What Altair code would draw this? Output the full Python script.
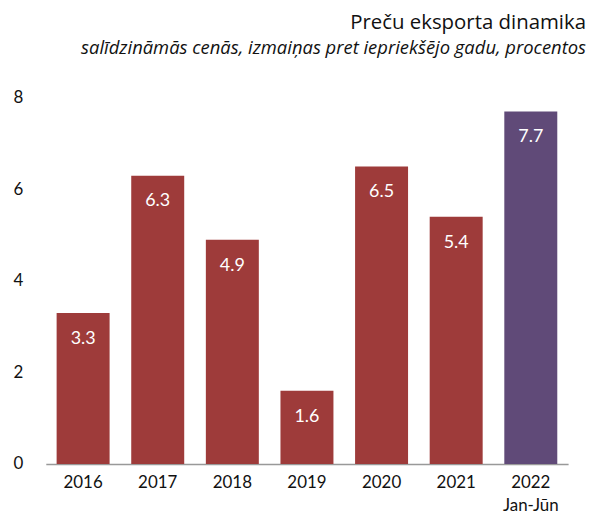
import altair as alt
import pandas as pd

years = ["2016", "2017", "2018", "2019", "2020", "2021", "2022"]
values = [3.3, 6.3, 4.9, 1.6, 6.5, 5.4, 7.7]
kinds = ["year", "year", "year", "year", "year", "year", "half"]

df = pd.DataFrame({"year": years, "value": values, "kind": kinds})

FONT = "Lato"
TFONT = "Open Sans"

base = alt.Chart(df).encode(
    x=alt.X(
        "year:N",
        sort=years,
        title=None,
        scale=alt.Scale(paddingInner=0.29, paddingOuter=0.145),
        axis=alt.Axis(
            labelAngle=0,
            ticks=False,
            domainColor="#999999",
            domainWidth=1.5,
            labelFontSize=17,
            labelColor="#111111",
            labelPadding=11,
            labelLineHeight=23,
            labelFont=FONT,
            labelExpr="datum.value == '2022' ? ['2022', 'Jan-Jūn'] : datum.value",
        ),
    ),
    y=alt.Y(
        "value:Q",
        title=None,
        scale=alt.Scale(domain=[0, 8], nice=False),
        axis=alt.Axis(
            values=[0, 2, 4, 6, 8],
            grid=False,
            ticks=False,
            domain=False,
            labelFontSize=17,
            labelColor="#111111",
            labelPadding=23,
            labelFont=FONT,
        ),
    ),
)

bars = base.mark_bar().encode(
    color=alt.Color(
        "kind:N",
        scale=alt.Scale(domain=["year", "half"], range=["#9E3B3A", "#604A78"]),
        legend=None,
    )
)

labels = base.mark_text(
    baseline="top", dy=17, color="white", fontSize=18, font=FONT
).encode(text=alt.Text("value:Q", format=".1f"))

chart = (
    (bars + labels)
    .properties(
        width=525,
        height=368,
        padding={"left": 5, "top": 4, "right": 2, "bottom": 5},
        title=alt.TitleParams(
            text="Preču eksporta dinamika",
            subtitle="salīdzināmās cenās, izmaiņas pret iepriekšējo gadu, procentos",
            anchor="end",
            dx=18,
            font=TFONT,
            fontSize=20.5,
            fontWeight="normal",
            color="#111111",
            subtitleFont=TFONT,
            subtitleFontSize=18.5,
            subtitleFontStyle="italic",
            subtitleColor="#111111",
            subtitlePadding=5,
            offset=32,
        ),
    )
    .configure_view(stroke=None)
)

chart.save("out.html", embed_options={"renderer": "svg", "actions": False})
